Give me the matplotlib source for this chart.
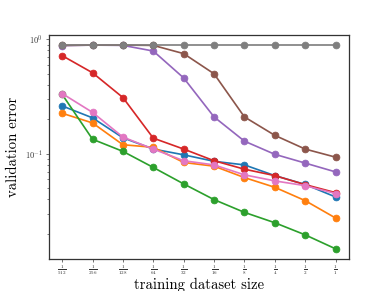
import numpy as np
import matplotlib
matplotlib.use('Agg')
import matplotlib.pyplot as plt

plt.rcParams['font.family'] = 'serif'
plt.rcParams['font.serif'] = ['cmr10']
plt.rcParams['mathtext.fontset'] = 'cm'
plt.rcParams['axes.formatter.use_mathtext'] = True
plt.rcParams['axes.unicode_minus'] = False

# fraction of the training set used
sizes = [1/512, 1/256, 1/128, 1/64, 1/32, 1/16, 1/8, 1/4, 1/2, 1]
size_labels = ['512', '256', '128', '64', '32', '16', '8', '4', '2', '1']

# validation error per run (tab10 colour order)
err_blue = [0.262, 0.206, 0.138, 0.110, 0.098, 0.086, 0.080, 0.0645, 0.054, 0.042]
err_orange = [0.226, 0.186, 0.120, 0.114, 0.084, 0.078, 0.062, 0.051, 0.039, 0.0275]
err_green = [0.330, 0.134, 0.105, 0.076, 0.0546, 0.0398, 0.0308, 0.025, 0.0196, 0.0148]
err_red = [0.72, 0.51, 0.31, 0.137, 0.110, 0.087, 0.0734, 0.0645, 0.0538, 0.0458]
err_purple = [0.88, 0.89, 0.885, 0.79, 0.46, 0.21, 0.129, 0.099, 0.083, 0.0695]
err_brown = [0.885, 0.89, 0.89, 0.885, 0.75, 0.50, 0.21, 0.145, 0.11, 0.0935]
err_pink = [0.336, 0.230, 0.140, 0.110, 0.087, 0.080, 0.0655, 0.058, 0.0527, 0.045]
err_gray = [0.89, 0.89, 0.89, 0.89, 0.89, 0.89, 0.89, 0.89, 0.89, 0.89]

runs = [err_blue, err_orange, err_green, err_red, err_purple, err_brown, err_pink, err_gray]

fig, ax = plt.subplots(figsize=(6.4, 4.8))
for i, err in enumerate(runs):
    ax.plot(sizes, err, marker='o', color=f'C{i}', linewidth=2, markersize=8)

ax.set_xscale('log', base=2)
ax.set_yscale('log')
ax.set_xticks(sizes)
ax.set_xticklabels([r'$\frac{1}{%s}$' % s for s in size_labels])
ax.minorticks_off()
ax.yaxis.set_minor_locator(matplotlib.ticker.LogLocator(subs='auto'))
ax.yaxis.set_minor_formatter(matplotlib.ticker.NullFormatter())

for sp in ax.spines.values():
    sp.set_color('#333333')
    sp.set_linewidth(1.5)
ax.tick_params(colors='#333333')
ax.tick_params(axis='x', pad=2, labelsize=8.5)

ax.set_xlabel('training dataset size', fontsize=17.5, labelpad=1)
ax.set_ylabel('validation error', fontsize=17.5, labelpad=6)

fig.savefig('out.png', dpi=388 / 6.4)
